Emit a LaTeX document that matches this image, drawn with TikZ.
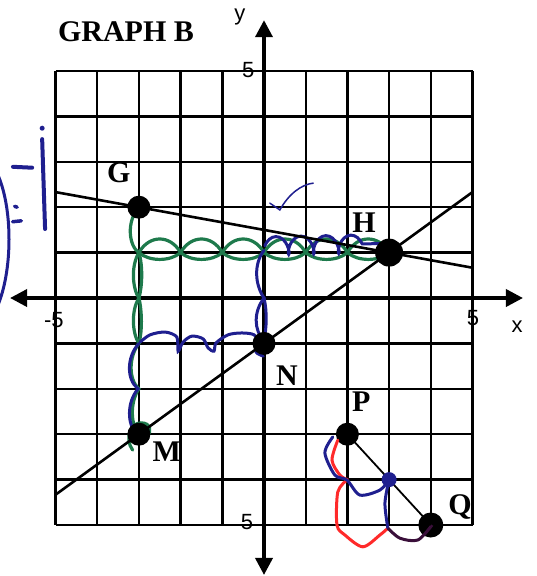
\documentclass[tikz,border=0pt]{standalone}
\usepackage{fontspec}
\setmainfont{Liberation Serif}
\setsansfont{Liberation Sans}
\usetikzlibrary{arrows.meta,decorations.pathmorphing}
\definecolor{penG}{HTML}{1E7A4C}
\definecolor{penB}{HTML}{1F1F8F}
\definecolor{penR}{HTML}{FF2A2A}
\definecolor{penP}{HTML}{3A0F3A}
\begin{document}
\begin{tikzpicture}[x=41.7pt,y=45.4pt,
 gridline/.style={line width=2.4pt, black},
 axisline/.style={line width=3.6pt, {Triangle[length=17pt,width=17pt]}-{Triangle[length=17pt,width=17pt]}},
 graphline/.style={line width=2.6pt},
 bigdot/.style={circle, fill=black, inner sep=0pt, minimum size=23pt},
 ptlabel/.style={font=\bfseries\fontsize{30}{30}\selectfont, inner sep=0pt},
 numlabel/.style={font=\sffamily\fontsize{22}{22}\selectfont, inner sep=0pt},
 greenpen/.style={draw=penG, line width=3.2pt, line cap=round},
 bluepen/.style={draw=penB, line width=3pt, line cap=round},
 redpen/.style={draw=penR, line width=3pt, line cap=round},
 marker/.style={draw=penB, line width=4pt, line cap=round}]
\useasboundingbox (-6.331,-6.123) rectangle (6.523,6.564);
% grid
\foreach \i in {-5,...,5} {
  \draw[gridline] (\i,-5) -- (\i,5);
  \draw[gridline] (-5,\i) -- (5,\i);
}
% axes
\coordinate (xl) at (-6.09,0);
\coordinate (xr) at (6.21,0);
\coordinate (yt) at (0,6.12);
\coordinate (yb) at (0,-6.10);
\draw[axisline] (xl) -- (xr);
\draw[axisline] (yb) -- (yt);
% labels
\node[ptlabel] (title) at (-3.31,5.86) {GRAPH B};
\node[numlabel] (ylab) at (-0.58,6.19) {y};
\node[numlabel] (xlab) at (6.07,-0.64) {x};
\node[numlabel] (n5t) at (-0.38,5.02) {5};
\node[numlabel] (n5l) at (-5.04,-0.48) {-5};
\node[numlabel] (n5r) at (5.01,-0.44) {5};
\node[numlabel] (n5b) at (-0.41,-4.93) {5};
% hand drawings: green
\foreach \k in {-3,...,2} {
  \draw[greenpen] (\k,1) .. controls (\k+0.25,1.4) and (\k+0.75,1.4) .. (\k+1,1)
     .. controls (\k+0.75,0.8) and (\k+0.25,0.8) .. cycle;
}
\draw[greenpen] (-3,2) .. controls (-3.3,1.7) and (-3.25,1.15) .. (-3,1)
  .. controls (-3.2,0.7) and (-3.15,0.2) .. (-3,0)
  .. controls (-3.2,-0.3) and (-3.15,-0.8) .. (-3,-1)
  .. controls (-3.25,-1.3) and (-3.25,-1.8) .. (-3,-2)
  .. controls (-3.22,-2.3) and (-3.2,-2.8) .. (-3,-3);
\draw[greenpen] (-3,1) .. controls (-2.9,0.7) and (-2.92,0.25) .. (-3,0)
  .. controls (-2.92,-0.3) and (-2.92,-0.75) .. (-3,-1);
\draw[greenpen] (-3.15,-3.35) .. controls (-3.35,-3.1) and (-3.2,-2.75) .. (-2.95,-2.75)
  .. controls (-2.7,-2.75) and (-2.7,-2.95) .. (-2.8,-3.05);
% blue
\draw[bluepen] (-3,-1) .. controls (-3.3,-1.3) and (-3.3,-1.8) .. (-3.02,-2)
  .. controls (-3.3,-2.3) and (-3.28,-2.8) .. (-3.05,-3);
\draw[bluepen] plot[smooth] coordinates {(-2.97,-0.97) (-2.73,-0.81) (-2.37,-0.75) (-2.09,-0.86) (-2.06,-1.17) (-1.94,-0.97) (-1.73,-0.84) (-1.46,-0.90) (-1.34,-1.10) (-1.20,-1.17) (-1.15,-0.99) (-0.86,-0.81) (-0.53,-0.77) (-0.24,-0.81) (-0.14,-0.99) (-0.19,-1.19) (-0.02,-1.28)};
\draw[bluepen] (0,-0.95) .. controls (-0.25,-0.7) and (-0.25,-0.3) .. (0,0)
  .. controls (-0.22,0.3) and (-0.25,0.75) .. (0,1.05);
\draw[bluepen] (0,0) .. controls (0.08,-0.3) and (0.06,-0.7) .. (0,-0.9);
\draw[bluepen, decorate, decoration={coil, aspect=0.55, segment length=25pt, amplitude=9pt}] (0.02,1.15) -- (2.85,1.2);
\draw[draw=penB, line width=1.5pt, line cap=round] (0.14,2.09) .. controls (0.25,2.0) .. (0.38,1.94)
  .. controls (0.6,2.3) and (0.9,2.5) .. (1.18,2.53);
% left marks
\fill[penB] (-5.32,3.74) circle (2.5pt);
\draw[marker] (-5.32,3.50) -- (-5.25,1.52);
\draw[marker] (-6.02,2.89) -- (-5.56,2.87);
\draw[marker, line width=3.5pt] (-5.98,2.02) -- (-5.92,2.0);
\draw[marker, line width=3.5pt] (-6.03,1.68) -- (-5.82,1.70);
\draw[draw=penB, line width=3pt] (-6.4,2.75) .. controls (-6.02,2.0) and (-6.02,0.6) .. (-6.4,-0.2);
% lines
\coordinate (ga) at (-5,{2+1/3});
\coordinate (gb) at (5,{2/3});
\coordinate (na) at (-5,{-1-10/3});
\coordinate (nb) at (5,{-1+10/3});
\draw[graphline] (ga) -- (gb);
\draw[graphline] (na) -- (nb);
% points
\node[bigdot] (G) at (-3,2) {};
\node[bigdot, minimum size=28pt] (H) at (3,1) {};
\node[bigdot] (N) at (0,-1) {};
\node[bigdot] (M) at (-3,-3) {};
\node[bigdot] (P) at (2,-3) {};
\node[bigdot, minimum size=25pt] (Q) at (4,-5) {};
% PQ region
\draw[redpen] plot[smooth] coordinates {(1.77,-3.13) (1.63,-3.57) (1.82,-3.90) (2,-4)};
\draw[redpen] plot[smooth] coordinates {(2,-4) (1.77,-4.27) (1.75,-5.0) (1.94,-5.22) (2.37,-5.48) (2.78,-5.22) (2.97,-5.07)};
\draw[bluepen] plot[smooth] coordinates {(1.65,-3.06) (1.46,-3.41) (1.70,-3.90) (1.99,-4.01) (2.30,-4.34) (2.78,-4.23) (3,-4)};
\draw[bluepen] plot[smooth] coordinates {(3,-4) (2.90,-4.52) (2.97,-5.07)};
\draw[draw=penP, line width=3pt] plot[smooth] coordinates {(2.97,-5.07) (3.26,-5.29) (3.69,-5.33) (4.03,-5.0)};
\draw[line width=1.8pt] (P.center) -- (Q.center);
\node[circle, fill=penB, inner sep=0pt, minimum size=15pt] (mid) at (3,-4) {};
% point labels
\node[ptlabel] (Gl) at (-3.48,2.75) {G};
\node[ptlabel] (Hl) at (2.40,1.67) {H};
\node[ptlabel] (Nl) at (0.55,-1.72) {N};
\node[ptlabel] (Ml) at (-2.33,-3.39) {M};
\node[ptlabel] (Pl) at (2.33,-2.29) {P};
\node[ptlabel] (Ql) at (4.70,-4.60) {Q};
\end{tikzpicture}
\end{document}
